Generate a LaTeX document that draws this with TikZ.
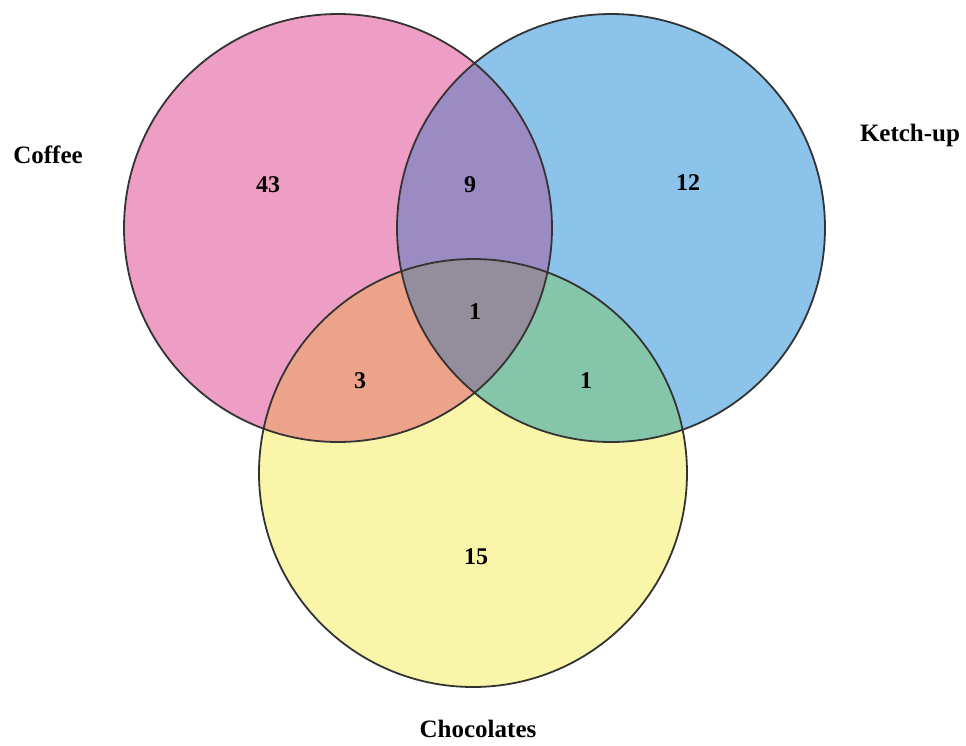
\documentclass[tikz,border=0pt]{standalone}
\usepackage{fontspec}
\setmainfont{Liberation Serif}
\definecolor{coffeepink}{HTML}{EE9EC4}
\definecolor{ketchblue}{HTML}{8BC3EB}
\definecolor{chocyellow}{HTML}{F9F6A9}
\definecolor{ckpurple}{HTML}{9A8BC2}
\definecolor{ccorange}{HTML}{EDA28A}
\definecolor{kcgreen}{HTML}{85C6AA}
\definecolor{allgray}{HTML}{948D9B}

\begin{document}
\begin{tikzpicture}[x=1pt,y=-1pt,
  set/.style={circle,minimum size=428pt,inner sep=0pt},
  rim/.style={draw=black!80,line width=1.8pt},
  lbl/.style={font=\fontsize{25}{28}\selectfont\bfseries},
  num/.style={font=\fontsize{24}{28}\selectfont\bfseries}]
\useasboundingbox (0,0) rectangle (966,745);
\node[set,fill=coffeepink] (coffee) at (338,228) {};
\node[set,fill=ketchblue] (ketch) at (611,228) {};
\node[set,fill=chocyellow] (choc) at (473,473) {};
\begin{scope}
\clip (coffee.center) circle[radius=214pt];
\fill[ckpurple] (ketch.center) circle[radius=214pt];
\fill[ccorange] (choc.center) circle[radius=214pt];
\end{scope}
\begin{scope}
\clip (ketch.center) circle[radius=214pt];
\fill[kcgreen] (choc.center) circle[radius=214pt];
\end{scope}
\begin{scope}
\clip (coffee.center) circle[radius=214pt];
\clip (ketch.center) circle[radius=214pt];
\fill[allgray] (choc.center) circle[radius=214pt];
\end{scope}
\draw[rim] (coffee.center) circle[radius=214pt];
\draw[rim] (ketch.center) circle[radius=214pt];
\draw[rim] (choc.center) circle[radius=214pt];
\node[lbl] (coffeelbl) at (48,155) {Coffee};
\node[lbl] (ketchlbl) at (910,135) {Ketch-up};
\node[lbl] (choclbl) at (478,729) {Chocolates};
\node[num] (n43) at (268,185) {43};
\node[num] (n9) at (470,185) {9};
\node[num] (n12) at (688,183) {12};
\node[num] (nall) at (475,312) {1};
\node[num] (n3) at (360,381) {3};
\node[num] (n1) at (586,381) {1};
\node[num] (n15) at (476,557) {15};
\end{tikzpicture}
\end{document}
